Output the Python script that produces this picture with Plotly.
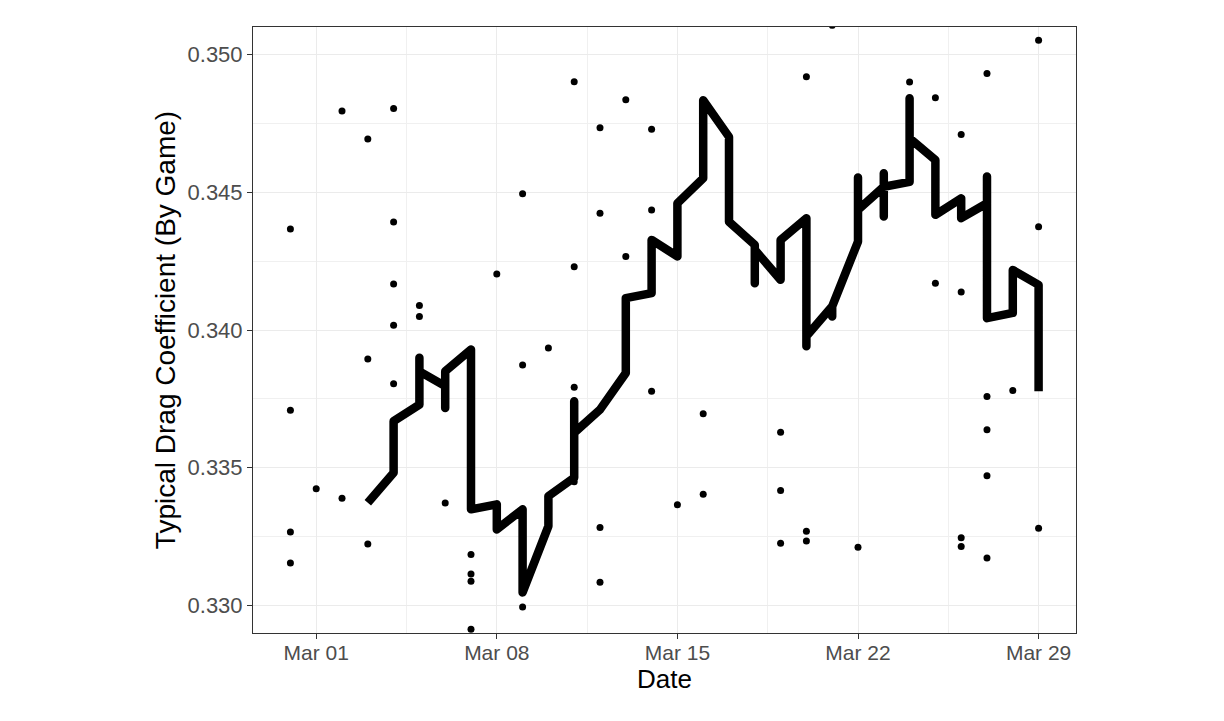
import pandas as pd
import plotly.graph_objects as go

# ---- data (day of March; 0 = Feb 28) ----
point_days = [0, 0, 0, 0,
              1,
              2, 2,
              3, 3, 3,
              4, 4, 4, 4, 4,
              5, 5,
              6,
              7, 7, 7, 7,
              8,
              9, 9, 9,
              10, 10,
              11, 11, 11, 11,
              12, 12, 12, 12, 12,
              13, 13,
              14, 14, 14,
              15,
              16, 16,
              19, 19, 19,
              20, 20, 20,
              21, 21,
              22,
              24,
              25, 25,
              26, 26, 26, 26,
              27, 27, 27, 27, 27,
              28,
              29, 29, 29]
point_values = [0.34367, 0.33709, 0.33267, 0.33154,
                0.33424,
                0.34795, 0.33389,
                0.34693, 0.33895, 0.33223,
                0.34804, 0.34392, 0.34167, 0.34017, 0.33805,
                0.34089, 0.34049,
                0.33372,
                0.33185, 0.33114, 0.33088, 0.32914,
                0.34203,
                0.34495, 0.33873, 0.32994,
                0.33935, 0.33301,
                0.34901, 0.34230, 0.33792, 0.33449,
                0.34734, 0.34424, 0.33711, 0.33283, 0.33084,
                0.34836, 0.34267,
                0.34729, 0.34436, 0.33778,
                0.33366,
                0.33696, 0.33404,
                0.33629, 0.33417, 0.33226,
                0.34919, 0.33269, 0.33234,
                0.35106, 0.34062,
                0.33211,
                0.34900,
                0.34843, 0.34170,
                0.34710, 0.34138, 0.33246, 0.33214,
                0.34931, 0.33759, 0.33638, 0.33471, 0.33172,
                0.33780,
                0.35052, 0.34375, 0.33280]

line_days = [3,
             4, 4,
             5, 5, 5,
             6, 6, 6,
             7, 7,
             8, 8,
             9, 9,
             10, 10,
             11, 11, 11,
             12,
             13, 13,
             14, 14,
             15, 15,
             16, 16,
             17, 17,
             18, 18, 18,
             19, 19,
             20, 20, 20,
             21, 21, 21,
             22, 22, 22,
             23, 23, 23, 23,
             24, 24, 24,
             25, 25,
             26, 26,
             27, 27, 27,
             28, 28,
             29, 29]
line_values = [0.33373,
               0.33482, 0.33669,
               0.33729, 0.33899, 0.33850,
               0.33796, 0.33717, 0.33850,
               0.33929, 0.33349,
               0.33367, 0.33276,
               0.33349, 0.33047,
               0.33288, 0.33397,
               0.33464, 0.33741, 0.33627,
               0.33711,
               0.33844, 0.34116,
               0.34134, 0.34327,
               0.34267, 0.34460,
               0.34551, 0.34834,
               0.34701, 0.34393,
               0.34309, 0.34170, 0.34291,
               0.34182, 0.34327,
               0.34406, 0.33941, 0.33977,
               0.34086, 0.34049, 0.34086,
               0.34321, 0.34554, 0.34436,
               0.34520, 0.34569, 0.34412, 0.34520,
               0.34538, 0.34841, 0.34696,
               0.34617, 0.34418,
               0.34478, 0.34406,
               0.34460, 0.34557, 0.34043,
               0.34062, 0.34218,
               0.34164, 0.33778]

x_tick_days = [1, 8, 15, 22, 29]
x_tick_labels = ["Mar 01", "Mar 08", "Mar 15", "Mar 22", "Mar 29"]
y_tick_values = [0.330, 0.335, 0.340, 0.345, 0.350]
y_tick_labels = ["0.330", "0.335", "0.340", "0.345", "0.350"]

base = pd.Timestamp("2021-03-01")
def to_date(days):
    return [base + pd.Timedelta(days=d - 1) for d in days]

point_dates = to_date(point_days)
line_dates = to_date(line_days)
tick_dates = to_date(x_tick_days)

fig = go.Figure()
fig.add_trace(go.Scatter(x=point_dates, y=point_values, mode="markers",
                         marker=dict(color="black", size=7, line=dict(width=0)),
                         showlegend=False, hoverinfo="skip"))
fig.add_trace(go.Scatter(x=line_dates, y=line_values, mode="lines",
                         line=dict(color="black", width=8.5),
                         showlegend=False, hoverinfo="skip"))

x_lo = base + pd.Timedelta(days=-2.45)
x_hi = base + pd.Timedelta(days=28 + 1.45)

fig.update_layout(
    width=1224, height=721, autosize=False,
    margin=dict(l=245, r=156, t=19, b=96),
    paper_bgcolor="white", plot_bgcolor="white",
    font=dict(family="Liberation Sans, Arial, sans-serif", color="black"),
    xaxis=dict(
        range=[x_lo, x_hi], type="date",
        tickvals=tick_dates, ticktext=x_tick_labels,
        tickfont=dict(size=21, color="#4D4D4D"),
        ticks="outside", ticklen=5, tickcolor="#333333", tickwidth=1,
        ticklabelstandoff=-4,
        showgrid=True, gridcolor="#EBEBEB", gridwidth=1.2,
        minor=dict(tick0=base + pd.Timedelta(days=3.5), dtick=7 * 86400000,
                   showgrid=True, gridcolor="#F0F0F0", gridwidth=0.7, ticks=""),
        showline=True, mirror=True, linecolor="#333333", linewidth=1,
        zeroline=False,
        title=dict(text="Date", font=dict(size=26, color="black"), standoff=4),
    ),
    yaxis=dict(
        range=[0.329, 0.351],
        tickvals=y_tick_values, ticktext=y_tick_labels,
        tickfont=dict(size=22, color="#4D4D4D"),
        ticks="outside", ticklen=5, tickcolor="#333333", tickwidth=1,
        showgrid=True, gridcolor="#EBEBEB", gridwidth=1.2,
        minor=dict(tick0=0.3275, dtick=0.005, showgrid=True,
                   gridcolor="#F0F0F0", gridwidth=0.7, ticks=""),
        showline=True, mirror=True, linecolor="#333333", linewidth=1,
        zeroline=False,
        title=dict(text="Typical Drag Coefficient (By Game)", font=dict(size=28, color="black"), standoff=3),
    ),
)

round_joins = "document.querySelectorAll('.js-line').forEach(function(p){p.style.strokeLinejoin='round';});"
fig.write_html("out.html", post_script=round_joins)
